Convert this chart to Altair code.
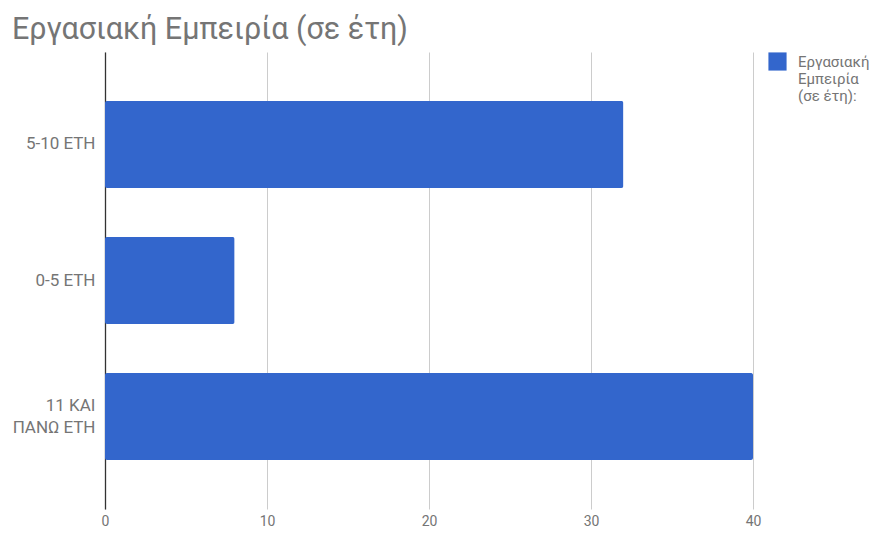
import altair as alt
import pandas as pd

categories = ["5-10 ΕΤΗ", "0-5 ΕΤΗ", "11 ΚΑΙ ΠΑΝΩ ΕΤΗ"]
values = [32, 8, 40]
series_name = "Εργασιακή Εμπειρία (σε έτη):"
x_ticks = [0, 10, 20, 30, 40]

df = pd.DataFrame({"cat": categories, "val": values, "series": [series_name] * 3})

grey = "#757575"
font = "Roboto"

chart = (
    alt.Chart(df)
    .mark_bar(cornerRadius=2)
    .encode(
        y=alt.Y(
            "cat:N",
            sort=categories,
            title=None,
            scale=alt.Scale(paddingInner=0.36, paddingOuter=0.36),
            axis=alt.Axis(
                domain=True, domainColor="#333333", domainWidth=1.3,
                ticks=False, labelPadding=10, labelFontSize=17, labelColor=grey,
                labelFont=font, labelLineHeight=22, labelLimit=200,
                labelExpr="datum.value == '11 ΚΑΙ ΠΑΝΩ ΕΤΗ' ? ['11 ΚΑΙ', 'ΠΑΝΩ ΕΤΗ'] : datum.value",
                labelOffset={"condition": {"test": "datum.value == '11 ΚΑΙ ΠΑΝΩ ΕΤΗ'", "value": -11}, "value": 0},
            ),
        ),
        x=alt.X(
            "val:Q",
            title=None,
            scale=alt.Scale(domain=[0, 40], nice=False),
            axis=alt.Axis(
                values=x_ticks, domain=False, ticks=False, grid=True,
                gridColor="#cccccc", labelPadding=5, labelFontSize=14,
                labelColor=grey, labelFont=font, labelFlush=False,
            ),
        ),
        color=alt.Color(
            "series:N",
            scale=alt.Scale(range=["#3366cc"]),
            legend=alt.Legend(
                title=None, orient="none", legendX=663, legendY=0,
                symbolType="square", symbolSize=330, symbolStrokeWidth=0,
                symbolOpacity=1, labelFont=font, labelFontSize=15, labelColor=grey,
                labelOffset=11, padding=0, labelLimit=200,
                labelExpr="['Εργασιακή', 'Εμπειρία', '(σε έτη):']",
                labelBaseline="middle",
            ),
        ),
    )
    .properties(
        width=648,
        height=457,
        padding={"left": 105, "top": 52, "right": 116, "bottom": 24},
        autosize=alt.AutoSizeParams(type="none"),
        title=alt.TitleParams(
            "Εργασιακή Εμπειρία (σε έτη)", anchor="start", frame="group",
            font=font, fontSize=30.5, fontWeight="normal", color=grey,
            dx=-93, offset=7,
        ),
    )
    .configure_view(stroke=None)
)

chart.save("out.html", embed_options={"renderer": "svg", "actions": False})
